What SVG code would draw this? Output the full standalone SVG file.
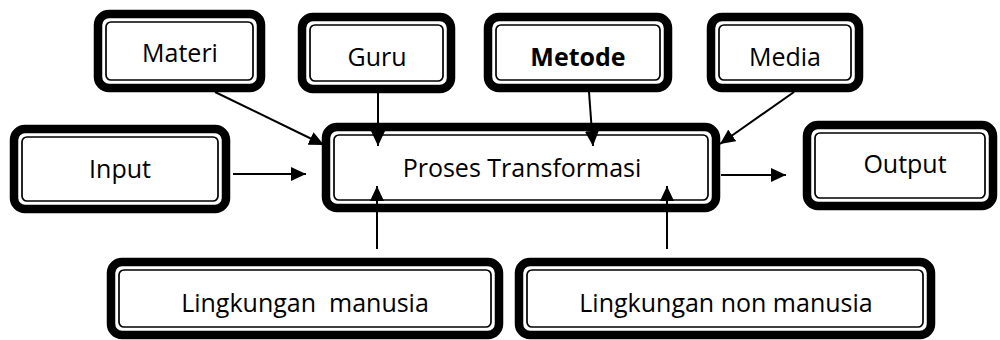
<svg xmlns="http://www.w3.org/2000/svg" width="1000" height="340" viewBox="0 0 1000 340">
<style>
.o{fill:#fff;stroke:#000;stroke-width:8.5}
.i{fill:none;stroke:#000;stroke-width:1.7}
.t{font-family:"Open Sans","Liberation Sans",sans-serif;font-size:25px;fill:#000;text-anchor:middle}
.c{stroke:#000;stroke-width:2;fill:none;marker-end:url(#ah)}
</style>
<defs>
<marker id="ah" markerUnits="userSpaceOnUse" markerWidth="16" markerHeight="14" refX="15" refY="7" orient="auto">
<path d="M0,0 L15,7 L0,14 Z" fill="#000"/>
</marker>
</defs>
<g id="materi"><rect class="o" x="98" y="14" width="163" height="74" rx="11"/><rect class="i" x="106" y="22" width="147" height="58" rx="5"/><text class="t" x="180" y="62">Materi</text></g>
<g id="guru"><rect class="o" x="302" y="17" width="149" height="72" rx="11"/><rect class="i" x="310" y="25" width="133" height="56" rx="5"/><text class="t" x="377" y="66">Guru</text></g>
<g id="metode"><rect class="o" x="488" y="17" width="180" height="71" rx="11"/><rect class="i" x="496" y="25" width="164" height="55" rx="5"/><text class="t" x="578" y="66" font-weight="bold">Metode</text></g>
<g id="media"><rect class="o" x="711" y="17" width="148" height="71" rx="11"/><rect class="i" x="719" y="25" width="132" height="55" rx="5"/><text class="t" x="785" y="66">Media</text></g>
<g id="input"><rect class="o" x="14" y="129" width="212" height="80" rx="11"/><rect class="i" x="22" y="137" width="196" height="64" rx="5"/><text class="t" x="120" y="178">Input</text></g>
<g id="proses"><rect class="o" x="326" y="127" width="390" height="81" rx="11"/><rect class="i" x="334" y="135" width="374" height="65" rx="5"/><text class="t" x="522" y="177">Proses Transformasi</text></g>
<g id="output"><rect class="o" x="807" y="125" width="186" height="81" rx="11"/><rect class="i" x="815" y="133" width="170" height="65" rx="5"/><text class="t" x="905" y="173">Output</text></g>
<g id="lingkungan-manusia"><rect class="o" x="111" y="262" width="388" height="73" rx="11"/><rect class="i" x="119" y="270" width="372" height="57" rx="5"/><text class="t" x="305" y="312" xml:space="preserve">Lingkungan  manusia</text></g>
<g id="lingkungan-non-manusia"><rect class="o" x="519" y="262" width="412" height="73" rx="11"/><rect class="i" x="527" y="270" width="396" height="57" rx="5"/><text class="t" x="726" y="312">Lingkungan non manusia</text></g>
<g id="connectors">
<line class="c" x1="233" y1="174" x2="306" y2="174"/>
<line class="c" x1="721" y1="175" x2="786" y2="175"/>
<line class="c" x1="215" y1="92" x2="324" y2="145"/>
<line class="c" x1="378" y1="93" x2="378" y2="146"/>
<line class="c" x1="589" y1="92" x2="593" y2="146"/>
<line class="c" x1="794" y1="92" x2="720" y2="144"/>
<line class="c" x1="377" y1="249" x2="377" y2="186"/>
<line class="c" x1="667" y1="249" x2="667" y2="186"/>
</g>
</svg>
